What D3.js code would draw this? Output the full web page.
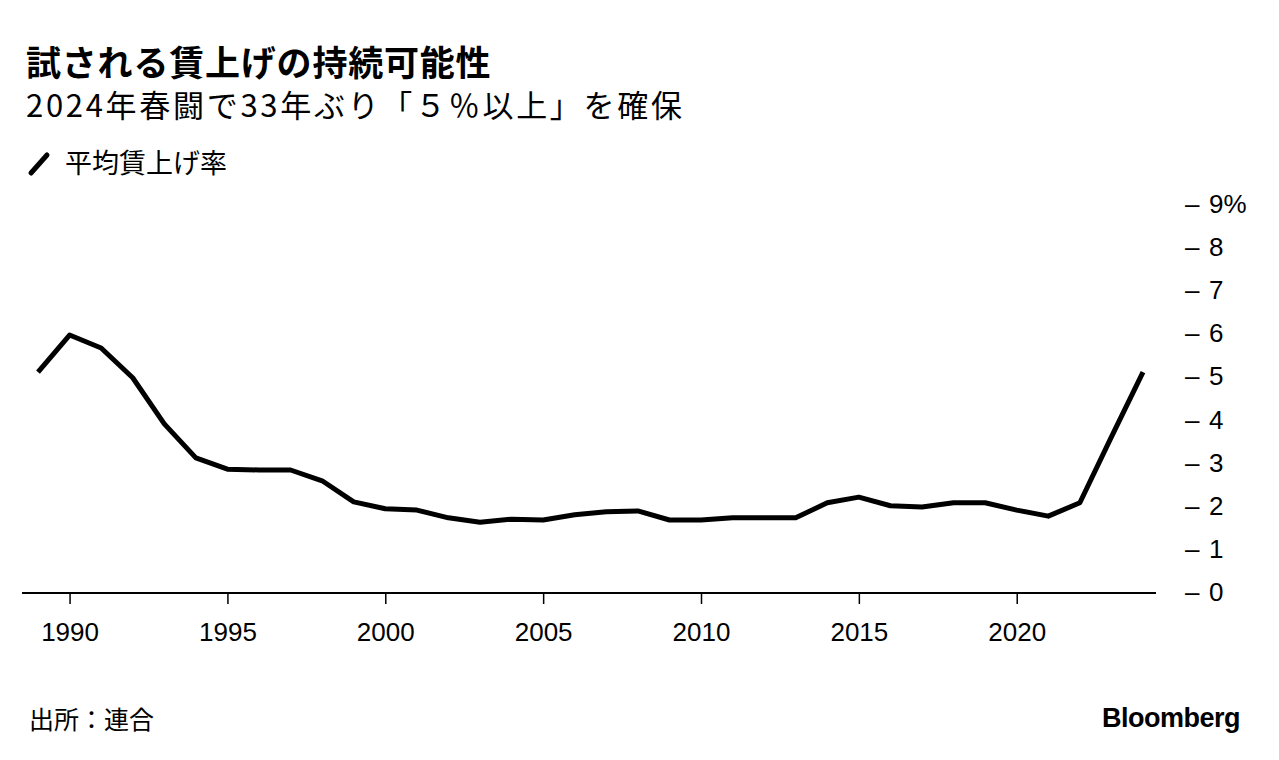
<!DOCTYPE html>
<html>
<head>
<meta charset="utf-8">
<title>試される賃上げの持続可能性</title>
<script src="https://cdn.jsdelivr.net/npm/d3@7"></script>
<style>
body { margin: 0; background: #fff; }
text { font-family: "Noto Sans CJK JP", "Noto Sans", sans-serif; fill: #000; }
</style>
</head>
<body>
<svg id="chart" width="1279" height="760"></svg>
<script>
// 連合 平均賃上げ率 (%)
var years = d3.range(1989, 2025);
var rates = [5.10, 5.96, 5.66, 4.97, 3.90, 3.11, 2.85, 2.83, 2.83, 2.58,
  2.09, 1.93, 1.90, 1.72, 1.62, 1.69, 1.67, 1.79, 1.86, 1.88,
  1.67, 1.67, 1.72, 1.72, 1.72, 2.07, 2.20, 2.00, 1.97, 2.07,
  2.07, 1.90, 1.76, 2.07, 3.60, 5.10];
var xTicks = [1990, 1995, 2000, 2005, 2010, 2015, 2020];
var yTicks = [0, 1, 2, 3, 4, 5, 6, 7, 8, 9];

var svg = d3.select("#chart");

var x = d3.scaleLinear().domain([1989, 2024]).range([38, 1143]);
var y = d3.scaleLinear().domain([0, 9]).range([592, 204]);

// titles
svg.append("text").attr("x", 26).attr("y", 76)
  .style("font-size", "35px").style("font-weight", "bold").style("letter-spacing", "0.8px")
  .text("試される賃上げの持続可能性");
svg.append("text").attr("x", 26).attr("y", 117)
  .style("font-size", "31px").style("letter-spacing", "2.7px")
  .text("2024年春闘で33年ぶり「５％以上」を確保");

// legend
svg.append("line").attr("x1", 31).attr("y1", 173).attr("x2", 47).attr("y2", 155)
  .attr("stroke", "#000").attr("stroke-width", 5).attr("stroke-linecap", "round");
svg.append("text").attr("x", 65).attr("y", 173)
  .style("font-size", "27px")
  .text("平均賃上げ率");

// y axis labels on the right
var yAx = svg.append("g");
yTicks.forEach(function (t) {
  yAx.append("text").attr("x", 1185).attr("y", y(t) + 9)
    .style("font-size", "26px").style("font-family", "Liberation Sans, sans-serif")
    .text("–");
  yAx.append("text").attr("x", 1209).attr("y", y(t) + 9)
    .style("font-size", "26px").style("font-family", "Liberation Sans, sans-serif")
    .text(t + (t === 9 ? "%" : ""));
});

// x axis
svg.append("line").attr("x1", 22).attr("x2", 1156).attr("y1", 593).attr("y2", 593)
  .attr("stroke", "#000").attr("stroke-width", 2);
var xAxis = d3.axisBottom(x).tickValues(xTicks).tickSize(11).tickPadding(19)
  .tickFormat(d3.format("d"));
var gx = svg.append("g").attr("transform", "translate(0,593)").call(xAxis);
gx.select(".domain").remove();
gx.selectAll(".tick line").attr("stroke", "#000").attr("stroke-width", 1.5);
gx.selectAll(".tick text").style("font-size", "26px")
  .style("font-family", "Liberation Sans, sans-serif").attr("fill", "#000");

// line
var line = d3.line().x(function (d, i) { return x(years[i]); })
  .y(function (d) { return y(d); });
svg.append("path").datum(rates).attr("d", line)
  .attr("fill", "none").attr("stroke", "#000").attr("stroke-width", 5)
  .attr("stroke-linejoin", "round");

// footer
svg.append("text").attr("x", 29).attr("y", 729)
  .style("font-size", "25px").text("出所：連合");
svg.append("text").attr("x", 1240).attr("y", 727).attr("text-anchor", "end")
  .style("font-size", "27px").style("font-weight", "bold")
  .style("font-family", "Liberation Sans, sans-serif").style("letter-spacing", "-0.5px")
  .text("Bloomberg");
</script>
</body>
</html>
